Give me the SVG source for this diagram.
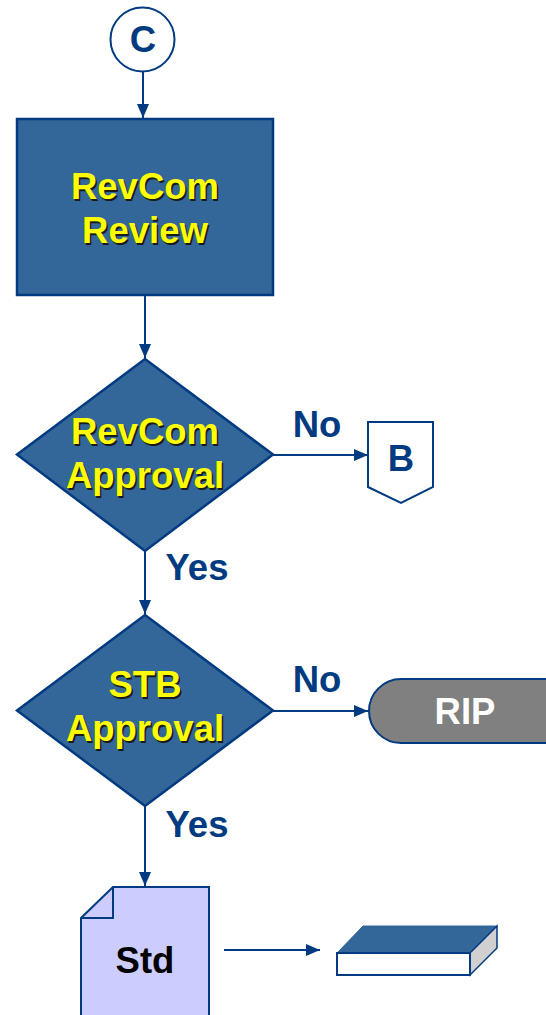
<svg xmlns="http://www.w3.org/2000/svg" width="546" height="1015" viewBox="0 0 546 1015">
<defs>
<marker id="ah" viewBox="0 0 14 12" refX="14" refY="6" markerWidth="14" markerHeight="12" markerUnits="userSpaceOnUse" orient="auto">
<path d="M0,0 L14,6 L0,12 Z" fill="#003A80"/>
</marker>
</defs>
<style>
.shape{fill:#336699;stroke:#003A80;stroke-width:2.5}
.conn{stroke:#003A80;stroke-width:2;fill:none;marker-end:url(#ah)}
text{font-family:"Liberation Sans",Arial,sans-serif;font-weight:bold;font-size:36.5px;text-anchor:middle}
.yt{fill:#FFFF00}
.sh{fill:#1a1a1a}
.lbl{fill:#003A80}
</style>
<rect width="546" height="1015" fill="#ffffff"/>
<g id="connectors">
<line class="conn" x1="143" y1="72" x2="143" y2="118"/>
<line class="conn" x1="145" y1="296" x2="145" y2="358"/>
<line class="conn" x1="273" y1="455" x2="368" y2="455"/>
<line class="conn" x1="145" y1="551" x2="145" y2="614"/>
<line class="conn" x1="273" y1="711" x2="368" y2="711"/>
<line class="conn" x1="145" y1="806" x2="145" y2="886"/>
<line class="conn" x1="224" y1="950" x2="320" y2="950"/>
<text class="lbl" x="317" y="437">No</text>
<text class="lbl" x="197" y="580">Yes</text>
<text class="lbl" x="317" y="692">No</text>
<text class="lbl" x="197" y="837">Yes</text>
</g>
<g id="node-c">
<circle cx="142.5" cy="39.5" r="32" fill="#ffffff" stroke="#003A80" stroke-width="2"/>
<text class="lbl" x="143" y="52">C</text>
</g>
<g id="node-revcom-review">
<rect class="shape" x="17" y="119" width="256" height="176"/>
<text class="sh" x="146.5" y="200.5">RevCom</text>
<text class="yt" x="145" y="199">RevCom</text>
<text class="sh" x="146.5" y="244.5">Review</text>
<text class="yt" x="145" y="243">Review</text>
</g>
<g id="node-revcom-approval">
<polygon class="shape" points="145,359 273,454.5 145,551 17,454.5"/>
<text class="sh" x="146.5" y="445.5">RevCom</text>
<text class="yt" x="145" y="444">RevCom</text>
<text class="sh" x="146.5" y="489.5">Approval</text>
<text class="yt" x="145" y="488">Approval</text>
</g>
<g id="node-b">
<polygon points="368,422 433,422 433,487 401,503 368,487" fill="#ffffff" stroke="#003A80" stroke-width="2"/>
<text class="lbl" x="401" y="471">B</text>
</g>
<g id="node-stb-approval">
<polygon class="shape" points="145,615 273,710.5 145,806 17,710.5"/>
<text class="sh" x="146.5" y="698.5">STB</text>
<text class="yt" x="145" y="697">STB</text>
<text class="sh" x="146.5" y="742.5">Approval</text>
<text class="yt" x="145" y="741">Approval</text>
</g>
<g id="node-rip">
<rect x="369" y="679" width="220" height="64" rx="32" ry="32" fill="#808080" stroke="#003A80" stroke-width="2"/>
<text x="465" y="724" fill="#ffffff">RIP</text>
</g>
<g id="node-std">
<path d="M113,887 L209,887 L209,1030 L81,1030 L81,918 Z" fill="#CCCCFF" stroke="#003A80" stroke-width="2"/>
<path d="M113,887 L113,918 L81,918" fill="none" stroke="#003A80" stroke-width="2"/>
<text x="145" y="973" fill="#000000">Std</text>
</g>
<g id="node-book">
<polygon points="337,953 363,926 497,926 470,953" fill="#336699" stroke="#336699" stroke-width="1"/>
<polygon points="470,953 497,926 497,948 470,975" fill="#D0D0D0" stroke="#003A80" stroke-width="1.5"/>
<rect x="337" y="953" width="133" height="22" fill="#ffffff" stroke="#003A80" stroke-width="2"/>
</g>
</svg>
